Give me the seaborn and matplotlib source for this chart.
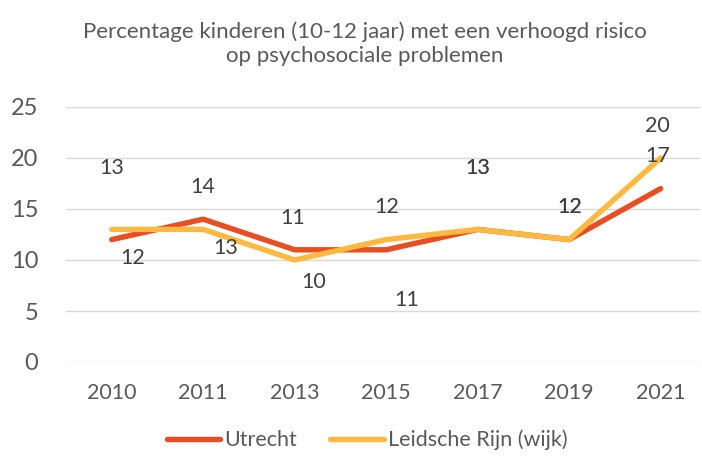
import matplotlib
matplotlib.use("Agg")
from matplotlib import pyplot as plt
import seaborn as sns
import pandas as pd

years = ["2010", "2011", "2013", "2015", "2017", "2019", "2021"]
utrecht = [12, 14, 11, 11, 13, 12, 17]
leidsche_rijn = [13, 13, 10, 12, 13, 12, 20]
series_names = ["Utrecht", "Leidsche Rijn (wijk)"]
title = "Percentage kinderen (10-12 jaar) met een verhoogd risico\nop psychosociale problemen"

# label offsets in pixels (dx, dy) relative to each point
utrecht_offsets = [(21, -18), (0, 32), (-2, 32), (20, -50), (0, 61), (0, 33), (-3, 33)]
leidsche_offsets = [(0, 61), (23, -19), (19, -22), (0, 33), (0, 61), (0, 33), (-3, 32)]

sns.set_style("white")
plt.rcParams["font.family"] = ["Lato", "DejaVu Sans"]

df = pd.DataFrame({
    "jaar": years * 2,
    "waarde": utrecht + leidsche_rijn,
    "reeks": [series_names[0]] * len(years) + [series_names[1]] * len(years),
})

fig = plt.figure(figsize=(7.02, 4.58), dpi=100)
ax = fig.add_axes([66 / 702, 1 - 362 / 458, (700 - 66) / 702, (362 - 107) / 458])

colors = {series_names[0]: "#E84E22", series_names[1]: "#FFB940"}
sns.lineplot(data=df, x="jaar", y="waarde", hue="reeks", palette=colors,
             linewidth=3.9, ax=ax, sort=False, legend=True,
             solid_capstyle="round")

grey = "#595959"
for vals, offs in [(utrecht, utrecht_offsets), (leidsche_rijn, leidsche_offsets)]:
    for i, (v, (dx, dy)) in enumerate(zip(vals, offs)):
        ax.annotate(str(v), (i, v), xytext=(dx, dy), textcoords="offset pixels",
                    ha="center", va="center", fontsize=15.5, color="#404040")

ax.set_ylim(0, 25)
ax.set_xlim(-0.5, 6.43)
ax.set_yticks(range(0, 26, 5))
ax.yaxis.grid(True, color="#D9D9D9", linewidth=1)
ax.set_axisbelow(True)
for s in ax.spines.values():
    s.set_visible(False)
ax.tick_params(axis="y", labelsize=17, colors=grey, length=0, pad=20)
ax.tick_params(axis="x", labelsize=15.5, colors=grey, length=0, pad=15)
ax.set_xlabel("")
ax.set_ylabel("")

fig.text(365 / 702, 1 - 44 / 458, title, ha="center", va="center", fontsize=16,
         color=grey, linespacing=1.25)

handles, labels = ax.get_legend_handles_labels()
ax.legend(handles, labels, loc="center", bbox_to_anchor=(367 / 702, 1 - 440 / 458),
          bbox_transform=fig.transFigure, ncol=2, frameon=False, fontsize=15.5,
          labelcolor=grey, handlelength=2.5, handletextpad=0.2, columnspacing=1.5)

fig.savefig("out.png", dpi=100)
